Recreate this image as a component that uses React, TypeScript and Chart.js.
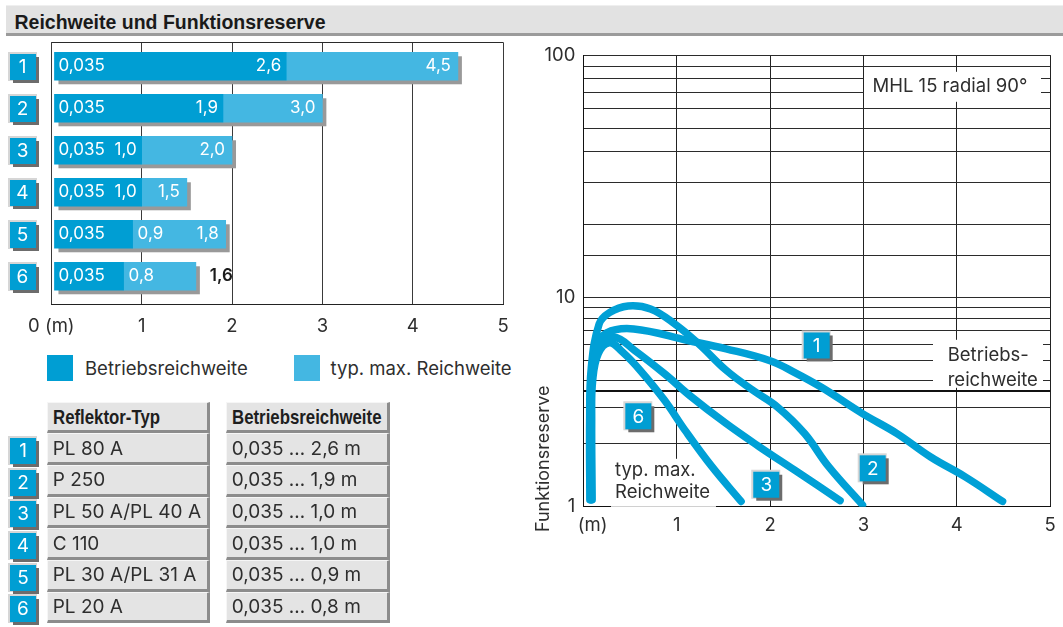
import React, { useEffect, useRef } from 'react';
import { Chart, registerables, LogarithmicScale } from 'chart.js';

Chart.register(...registerables);

const FONT = 'Inter, "Open Sans", "Liberation Sans", Arial, sans-serif';
const FONT_HEAD = '"Liberation Sans", Arial, sans-serif';
const BLUE_DARK = '#009ed3';
const BLUE_LIGHT = '#44b7e2';
const CURVE_BLUE = '#00a0d6';
const TEXT = '#2e2e2e';

// ---------- Reichweite (bar chart) ----------
const PAGE_TITLE = 'Reichweite und Funktionsreserve';
const REFLECTOR_IDS = ['1', '2', '3', '4', '5', '6'];
const RANGE_START = [0.035, 0.035, 0.035, 0.035, 0.035, 0.035];
const OPERATING_RANGE = [2.6, 1.9, 1.0, 1.0, 0.9, 0.8];
const MAX_RANGE = [4.5, 3.0, 2.0, 1.5, 1.93, 1.6];
const START_LABELS = ['0,035', '0,035', '0,035', '0,035', '0,035', '0,035'];
const OPERATING_LABELS = ['2,6', '1,9', '1,0', '1,0', '0,9', '0,8'];
const MAX_LABELS = ['4,5', '3,0', '2,0', '1,5', '1,8', '1,6'];
const OPERATING_LABEL_INSIDE = [true, true, true, true, false, false];
const MAX_LABEL_INSIDE = [true, true, true, true, true, false];
const RANGE_TICKS = ['0 (m)', '1', '2', '3', '4', '5'];
const LEGEND_LABELS = ['Betriebsreichweite', 'typ. max. Reichweite'];
const ROW_AXIS_MIN = -0.571;
const ROW_AXIS_MAX = 5.667;

// ---------- table ----------
const TABLE_HEADERS = ['Reflektor-Typ', 'Betriebsreichweite'];
const REFLECTOR_TYPES = ['PL 80 A', 'P 250', 'PL 50 A/PL 40 A', 'C 110', 'PL 30 A/PL 31 A', 'PL 20 A'];
const OPERATING_TEXT = ['0,035 … 2,6 m', '0,035 … 1,9 m', '0,035 … 1,0 m', '0,035 … 1,0 m', '0,035 … 0,9 m', '0,035 … 0,8 m'];

// ---------- Funktionsreserve (line chart) ----------
const RESERVE_TITLE = 'MHL 15 radial 90°';
const RESERVE_Y_TITLE = 'Funktionsreserve';
const RESERVE_X_TICKS = ['(m)', '1', '2', '3', '4', '5'];
const RESERVE_Y_LABELS = [1, 10, 100];
const RESERVE_GRID = [1, 2, 3, 4, 5, 6, 7, 8, 9, 10, 15, 20, 30, 40, 50, 60, 70, 80, 90, 100];
const OPERATING_THRESHOLD = 3.6;
const OPERATING_TEXT_LINES = ['Betriebs-', 'reichweite'];
const MAX_TEXT_LINES = ['typ. max.', 'Reichweite'];

const CURVE_1_X = [0.08, 0.075, 0.09, 0.15, 0.25, 0.54, 1.12, 1.53, 2.0, 2.26, 2.55, 2.99, 3.36, 3.72, 4.09, 4.49];
const CURVE_1_Y = [1.08, 2.6, 4.0, 5.8, 6.8, 7.1, 6.25, 5.7, 5.0, 4.4, 3.73, 2.79, 2.24, 1.73, 1.39, 1.06];
const CURVE_2_X = [0.07, 0.068, 0.085, 0.17, 0.28, 0.48, 0.72, 0.98, 1.24, 1.53, 1.82, 2.08, 2.37, 2.63, 2.99];
const CURVE_2_Y = [1.08, 2.6, 4.6, 7.5, 8.5, 9.15, 8.85, 7.5, 6.0, 4.5, 3.6, 3.0, 2.24, 1.55, 1.02];
const CURVE_3_X = [0.085, 0.08, 0.095, 0.16, 0.33, 0.55, 0.87, 1.16, 1.53, 1.89, 2.26, 2.75];
const CURVE_3_Y = [1.08, 2.6, 4.2, 5.9, 6.5, 5.6, 4.33, 3.35, 2.5, 1.93, 1.5, 1.07];
const CURVE_6_X = [0.095, 0.09, 0.1, 0.16, 0.28, 0.42, 0.61, 0.87, 1.09, 1.38, 1.69];
const CURVE_6_Y = [1.08, 2.6, 4.0, 5.4, 6.1, 5.5, 4.49, 3.23, 2.32, 1.55, 1.06];
const CURVE_IDS = ['1', '2', '3', '6'];
const CURVE_LABEL_X = [2.51, 3.11, 1.97, 0.6];
const CURVE_LABEL_Y = [5.85, 1.51, 1.26, 2.68];

// ---------- split logarithmic scale (decades of unequal height, as in the drawing) ----------
const LOWER_DECADE_SHARE = 0.4625;
function splitDecimal(v: number) {
  const l = Math.log10(Math.max(v, 1e-9));
  return l <= 1 ? l * LOWER_DECADE_SHARE : LOWER_DECADE_SHARE + (l - 1) * (1 - LOWER_DECADE_SHARE);
}
function splitInverse(d: number) {
  const l = d <= LOWER_DECADE_SHARE ? d / LOWER_DECADE_SHARE : 1 + (d - LOWER_DECADE_SHARE) / (1 - LOWER_DECADE_SHARE);
  return Math.pow(10, l);
}
class SplitLogScale extends (LogarithmicScale as any) {
  static id = 'splitLog';
  static defaults = (LogarithmicScale as any).defaults;
  getPixelForValue(value: any) {
    if (value === null || value === undefined || isNaN(value)) return NaN;
    return (this as any).getPixelForDecimal(splitDecimal(value));
  }
  getValueForPixel(pixel: number) {
    return splitInverse((this as any).getDecimalForPixel(pixel));
  }
}
Chart.register(SplitLogScale as any);

Chart.defaults.font.family = FONT;
Chart.defaults.color = TEXT;

function drawNumBox(ctx: CanvasRenderingContext2D, cx: number, cy: number, n: string) {
  ctx.fillStyle = '#d6d6d6';
  ctx.fillRect(cx - 15, cy - 15, 29, 29);
  ctx.fillStyle = '#6c6c6c';
  ctx.fillRect(cx - 10, cy - 10, 26, 26);
  ctx.fillStyle = BLUE_DARK;
  ctx.fillRect(cx - 13, cy - 13, 26, 26);
  ctx.fillStyle = '#ffffff';
  ctx.font = `19px ${FONT}`;
  ctx.textAlign = 'center';
  ctx.textBaseline = 'middle';
  ctx.fillText(n, cx, cy + 1);
}

const rangeDecor = {
  id: 'rangeDecor',
  beforeDatasetsDraw(chart: any) {
    const { ctx, chartArea: ca } = chart;
    ctx.save();
    ctx.strokeStyle = '#2a2a2a';
    ctx.lineWidth = 1;
    const t = Math.round(ca.top) + 0.5;
    ctx.beginPath();
    ctx.moveTo(ca.left, t);
    ctx.lineTo(ca.right, t);
    ctx.stroke();
    const op = chart.getDatasetMeta(0).data;
    const mx = chart.getDatasetMeta(1).data;
    ctx.fillStyle = '#999999';
    op.forEach((bar: any, i: number) => {
      const left = Math.min(bar.base, bar.x);
      const right = Math.max(mx[i].base, mx[i].x);
      ctx.fillRect(left + 4, bar.y - bar.height / 2 + 4, right - left, bar.height);
    });
    ctx.restore();
  },
  afterDatasetsDraw(chart: any) {
    const { ctx } = chart;
    const op = chart.getDatasetMeta(0).data;
    const mx = chart.getDatasetMeta(1).data;
    ctx.save();
    ctx.textBaseline = 'middle';
    op.forEach((bar: any, i: number) => {
      const y = bar.y;
      const m = mx[i];
      ctx.font = `17px ${FONT}`;
      ctx.fillStyle = '#ffffff';
      ctx.textAlign = 'left';
      ctx.fillText(START_LABELS[i], Math.min(bar.base, bar.x) + 4, y);
      if (OPERATING_LABEL_INSIDE[i]) {
        ctx.textAlign = 'right';
        ctx.fillText(OPERATING_LABELS[i], bar.x - 5, y);
      } else {
        ctx.textAlign = 'left';
        ctx.fillText(OPERATING_LABELS[i], bar.x + 5, y);
      }
      if (MAX_LABEL_INSIDE[i]) {
        ctx.textAlign = 'right';
        ctx.fillText(MAX_LABELS[i], m.x - 7, y);
      } else {
        ctx.font = `600 17px ${FONT}`;
        ctx.fillStyle = '#1a1a1a';
        ctx.textAlign = 'left';
        ctx.fillText(MAX_LABELS[i], m.x + 14, y);
      }
    });
    ctx.restore();
  },
};

const reserveDecor = {
  id: 'reserveDecor',
  beforeDatasetsDraw(chart: any) {
    const { ctx, chartArea: ca, scales } = chart;
    const L = ca.left;
    const T = ca.top;
    ctx.save();
    const ty = Math.round(scales.y.getPixelForValue(OPERATING_THRESHOLD));
    ctx.strokeStyle = '#111111';
    ctx.lineWidth = 2;
    ctx.beginPath();
    ctx.moveTo(ca.left, ty);
    ctx.lineTo(ca.right, ty);
    ctx.stroke();

    ctx.fillStyle = '#ffffff';
    ctx.fillRect(L + 280.7, T + 16.7, 177, 30);
    ctx.fillRect(L + 349.7, T + 284.7, 110, 48);
    ctx.fillRect(L + 27.7, T + 403.7, 105, 48);

    ctx.fillStyle = TEXT;
    ctx.font = `18.5px ${FONT}`;
    ctx.textBaseline = 'middle';
    ctx.textAlign = 'left';
    ctx.fillText(RESERVE_TITLE, L + 289.2, T + 31.7);
    ctx.fillText(OPERATING_TEXT_LINES[0], L + 364.4, T + 300);
    ctx.fillText(OPERATING_TEXT_LINES[1], L + 364.4, T + 325);
    ctx.fillText(MAX_TEXT_LINES[0], L + 31.7, T + 415.7);
    ctx.fillText(MAX_TEXT_LINES[1], L + 31.7, T + 437.7);

    ctx.textAlign = 'center';
    ctx.fillText(RESERVE_X_TICKS[0], scales.x.getPixelForValue(0) + 9.4, ca.bottom + 18.3);

    ctx.save();
    ctx.translate(L - 39.3, T + 403.7);
    ctx.rotate(-Math.PI / 2);
    ctx.font = `18px ${FONT}`;
    ctx.fillText(RESERVE_Y_TITLE, 0, 0);
    ctx.restore();
    ctx.restore();
  },
  afterDatasetsDraw(chart: any) {
    const { ctx, scales } = chart;
    ctx.save();
    CURVE_IDS.forEach((id, i) => {
      const cx = scales.x.getPixelForValue(CURVE_LABEL_X[i]) - 1;
      const cy = scales.y.getPixelForValue(CURVE_LABEL_Y[i]) - 1;
      drawNumBox(ctx, cx, cy, id);
    });
    ctx.restore();
  },
};

function NumBox({ n, left, top }: { n: string; left: number; top: number }) {
  return (
    <>
      <div style={{ position: 'absolute', left: left - 2, top: top - 2, width: 29, height: 29, background: '#d6d6d6' }} />
      <div style={{ position: 'absolute', left: left + 3, top: top + 3, width: 26, height: 26, background: '#6c6c6c' }} />
      <div
        style={{
          position: 'absolute', left, top, width: 26, height: 26, background: BLUE_DARK, color: '#fff',
          fontSize: 19, lineHeight: '26px', textAlign: 'center', fontFamily: FONT,
        }}
      >
        {n}
      </div>
    </>
  );
}

function Cell({ left, top, width, height, children }: any) {
  return (
    <div
      style={{
        position: 'absolute', left, top, width, height, boxSizing: 'border-box', background: '#e4e4e4',
        borderTop: '1px solid #f6f6f6', borderLeft: '1px solid #f6f6f6', borderRight: '3px solid #8c8c8c',
        borderBottom: '3px solid #8c8c8c', paddingLeft: 5, display: 'flex', alignItems: 'center',
        fontFamily: FONT, fontSize: 19, color: TEXT, whiteSpace: 'nowrap', overflow: 'visible',
      }}
    >
      {children}
    </div>
  );
}

function HeadText({ text }: { text: string }) {
  return (
    <span
      style={{
        display: 'inline-block', flexShrink: 0, fontFamily: FONT_HEAD, fontWeight: 'bold', fontSize: 20.5,
        color: '#1e1e1e', transform: 'scaleX(0.82)', transformOrigin: 'left center',
      }}
    >
      {text}
    </span>
  );
}

export default function App() {
  const leftRef = useRef<HTMLCanvasElement>(null);
  const rightRef = useRef<HTMLCanvasElement>(null);

  useEffect(() => {
    const rangeChart = new Chart(leftRef.current as HTMLCanvasElement, {
      type: 'bar',
      data: {
        datasets: [
          {
            label: LEGEND_LABELS[0],
            data: REFLECTOR_IDS.map((_, i) => ({ y: i, x: [RANGE_START[i], OPERATING_RANGE[i]] })) as any,
            backgroundColor: BLUE_DARK,
            borderWidth: 0,
            grouped: false,
            barThickness: 28,
          } as any,
          {
            label: LEGEND_LABELS[1],
            data: REFLECTOR_IDS.map((_, i) => ({ y: i, x: [OPERATING_RANGE[i], MAX_RANGE[i]] })) as any,
            backgroundColor: BLUE_LIGHT,
            borderWidth: 0,
            grouped: false,
            barThickness: 28,
          } as any,
        ],
      },
      options: {
        indexAxis: 'y',
        animation: false,
        responsive: false,
        devicePixelRatio: 1,
        events: [],
        layout: { padding: { left: 51.3, right: 15.9, top: 6.3, bottom: 0 } },
        plugins: { legend: { display: false }, tooltip: { enabled: false } },
        scales: {
          x: {
            type: 'linear',
            min: 0,
            max: 5,
            position: 'bottom',
            afterFit: (s: any) => { s.height = 41.7; },
            grid: { color: '#3a3a3a', lineWidth: 1, drawTicks: false },
            border: { display: true, color: '#222222' },
            ticks: {
              stepSize: 1, padding: 11.3, color: TEXT, autoSkip: false, maxRotation: 0,
              font: { size: 18.5, family: FONT },
              callback: (v: any) => RANGE_TICKS[Math.round(v)] ?? '',
            },
          },
          y: {
            type: 'linear',
            min: ROW_AXIS_MIN,
            max: ROW_AXIS_MAX,
            bounds: 'data',
            offset: false,
            reverse: true,
            display: false,
            afterBuildTicks: (s: any) => { s.min = ROW_AXIS_MIN; s.max = ROW_AXIS_MAX; },
          },
        },
      } as any,
      plugins: [rangeDecor],
    });

    const curves = [
      [CURVE_1_X, CURVE_1_Y],
      [CURVE_2_X, CURVE_2_Y],
      [CURVE_3_X, CURVE_3_Y],
      [CURVE_6_X, CURVE_6_Y],
    ];
    const reserveChart = new Chart(rightRef.current as HTMLCanvasElement, {
      type: 'line',
      data: {
        datasets: curves.map(([xs, ys], k) => ({
          label: CURVE_IDS[k],
          data: xs.map((x, i) => ({ x, y: ys[i] })),
          borderColor: CURVE_BLUE,
          borderWidth: 7.5,
          pointRadius: 0,
          tension: 0.4,
          fill: false,
          borderCapStyle: 'round',
          borderJoinStyle: 'round',
        })) as any,
      },
      options: {
        animation: false,
        responsive: false,
        devicePixelRatio: 1,
        events: [],
        layout: { padding: { left: 0, right: 7, top: 17.3, bottom: 0 } },
        plugins: { legend: { display: false }, tooltip: { enabled: false } },
        scales: {
          x: {
            type: 'linear',
            min: 0,
            max: 5,
            afterFit: (s: any) => { s.height = 39.3; },
            grid: { color: '#222222', lineWidth: 1, drawTicks: false },
            border: { display: true, color: '#111111' },
            ticks: {
              stepSize: 1, padding: 7.2, color: TEXT, autoSkip: false, maxRotation: 0,
              font: { size: 18.5, family: FONT },
              callback: (v: any) => (Math.round(v) === 0 ? '' : RESERVE_X_TICKS[Math.round(v)] ?? ''),
            },
          },
          y: {
            type: 'splitLog',
            min: 1,
            max: 100,
            afterFit: (s: any) => { s.width = 63.3; },
            afterBuildTicks: (s: any) => { s.ticks = RESERVE_GRID.map((v) => ({ value: v })); },
            grid: { color: '#2b2b2b', lineWidth: 1, drawTicks: false },
            border: { display: true, color: '#111111' },
            ticks: {
              autoSkip: false, padding: 8, color: TEXT,
              font: { size: 18.5, family: FONT },
              callback: (v: any) => (RESERVE_Y_LABELS.includes(v) ? String(v) : ''),
            },
          },
        },
      } as any,
      plugins: [reserveDecor],
    });

    return () => {
      rangeChart.destroy();
      reserveChart.destroy();
    };
  }, []);

  const rowTop = (i: number) => 433.3 + 31.7 * i;

  return (
    <div
      style={{
        position: 'fixed', left: 0, top: 0, width: 1063, height: 627, background: '#ffffff',
        overflow: 'hidden', fontFamily: FONT, color: TEXT,
      }}
    >
      <div
        style={{
          position: 'absolute', left: 6, top: 5, width: 1057, height: 31, boxSizing: 'border-box',
          background: '#e2e2e2', borderTop: '1px solid #efefef', borderBottom: '3px solid #9b9b9b',
        }}
      />
      <div
        style={{
          position: 'absolute', left: 14.5, top: 7.5, lineHeight: '28px', fontFamily: FONT_HEAD,
          fontWeight: 'bold', fontSize: 19.5, color: '#1a1a1a', whiteSpace: 'nowrap',
        }}
      >
        {PAGE_TITLE}
      </div>

      <canvas ref={leftRef} width={520} height={310} style={{ position: 'absolute', left: 0, top: 36 }} />
      <canvas ref={rightRef} width={543} height={510} style={{ position: 'absolute', left: 520, top: 36 }} />

      {REFLECTOR_IDS.map((id, i) => (
        <NumBox key={'b' + id} n={id} left={9.5} top={54.3 + 42 * i} />
      ))}

      <div style={{ position: 'absolute', left: 47.2, top: 355, width: 26, height: 26, background: BLUE_DARK }} />
      <div style={{ position: 'absolute', left: 85, top: 357, lineHeight: '22px', fontSize: 18.5, whiteSpace: 'nowrap' }}>
        {LEGEND_LABELS[0]}
      </div>
      <div style={{ position: 'absolute', left: 294.4, top: 355, width: 26, height: 26, background: BLUE_LIGHT }} />
      <div style={{ position: 'absolute', left: 330.6, top: 357, lineHeight: '22px', fontSize: 18.5, whiteSpace: 'nowrap' }}>
        {LEGEND_LABELS[1]}
      </div>

      <Cell left={46.7} top={402.3} width={163.3} height={31}>
        <HeadText text={TABLE_HEADERS[0]} />
      </Cell>
      <Cell left={225.7} top={402.3} width={164.3} height={31}>
        <HeadText text={TABLE_HEADERS[1]} />
      </Cell>
      {REFLECTOR_IDS.map((id, i) => (
        <React.Fragment key={'r' + id}>
          <NumBox n={id} left={10} top={rowTop(i) + 4.5} />
          <Cell left={46.7} top={rowTop(i)} width={163.3} height={31.7}>
            {REFLECTOR_TYPES[i]}
          </Cell>
          <Cell left={225.7} top={rowTop(i)} width={164.3} height={31.7}>
            {OPERATING_TEXT[i]}
          </Cell>
        </React.Fragment>
      ))}
    </div>
  );
}
